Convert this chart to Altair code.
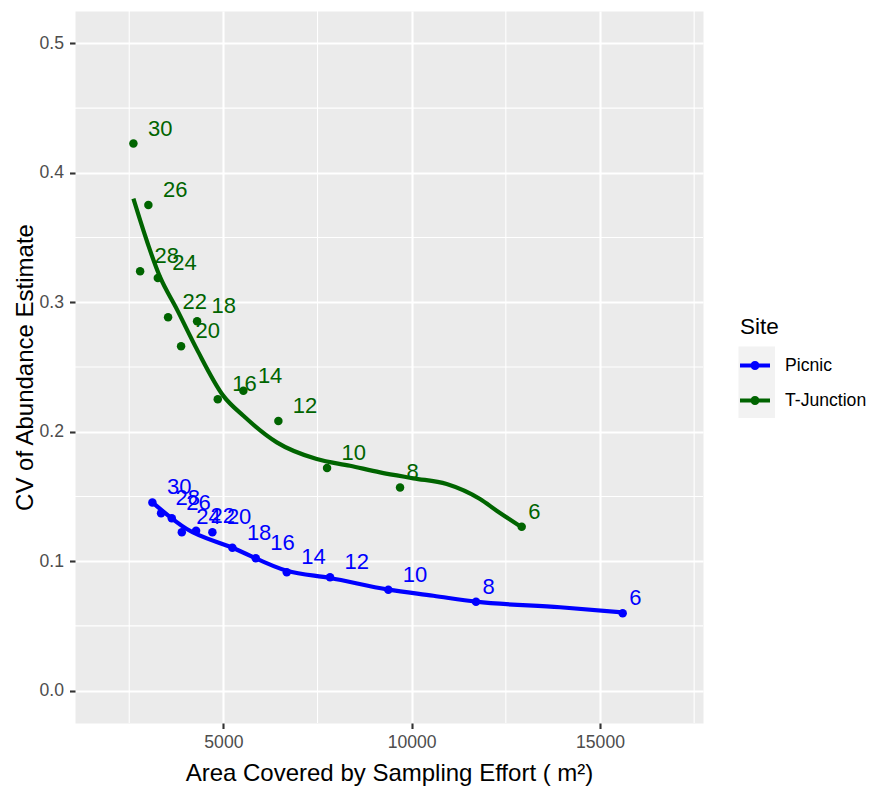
import altair as alt
import pandas as pd

# ---------------- data ----------------
sample_n = [30, 28, 26, 24, 22, 20, 18, 16, 14, 12, 10, 8, 6]
sites = ["Picnic", "T-Junction"]
site_colors = ["#0000FF", "#006400"]

picnic_area = [3115, 3346, 3630, 3896, 4275, 4708, 5239, 5860, 6683, 7832, 9380, 11708, 15602]
picnic_cv = [0.1454, 0.1370, 0.1331, 0.1223, 0.1235, 0.1223, 0.1104, 0.1022, 0.0914, 0.0875, 0.0780, 0.0687, 0.0598]

tjunction_area = [2611, 2789, 3009, 3259, 3532, 3877, 4302, 4851, 5531, 6460, 7753, 9691, 12921]
tjunction_cv = [0.4226, 0.3240, 0.3752, 0.3188, 0.2885, 0.2661, 0.2854, 0.2250, 0.2316, 0.2082, 0.1719, 0.1570, 0.1266]

# smoothed (loess) curves
picnic_fit_area = [3115, 4028, 5239, 6683, 7832, 9380, 10575, 11708, 13941, 15602]
picnic_fit_cv = [0.1454, 0.1248, 0.1104, 0.0926, 0.0870, 0.0780, 0.0733, 0.0687, 0.0644, 0.0605]

tjunction_fit_area = [2611, 3320, 3763, 4294, 5000, 5531, 6418, 7479, 8363, 9160, 10046, 10930, 11814, 12257, 12921]
tjunction_fit_cv = [0.3801, 0.3194, 0.2947, 0.2638, 0.2277, 0.2123, 0.1918, 0.1789, 0.1737, 0.1686, 0.1640, 0.1596, 0.1480, 0.1390, 0.1262]

x_major = [5000, 10000, 15000]
x_minor = [2500, 7500, 12500, 17500]
y_major = [0.0, 0.1, 0.2, 0.3, 0.4, 0.5]
y_minor = [0.05, 0.15, 0.25, 0.35, 0.45]

x_domain = [1060, 17735]
y_domain = [-0.025, 0.525]

# ---------------- tables ----------------
pts = pd.DataFrame({
    "site": [sites[0]] * len(sample_n) + [sites[1]] * len(sample_n),
    "area": picnic_area + tjunction_area,
    "cv": picnic_cv + tjunction_cv,
    "n": sample_n + sample_n,
})
fit = pd.DataFrame({
    "site": [sites[0]] * len(picnic_fit_area) + [sites[1]] * len(tjunction_fit_area),
    "area": picnic_fit_area + tjunction_fit_area,
    "cv": picnic_fit_cv + tjunction_fit_cv,
})

FONT = "Liberation Sans"
W, H = 628, 712

x_scale = alt.Scale(domain=x_domain, nice=False, zero=False)
y_scale = alt.Scale(domain=y_domain, nice=False, zero=False)
site_scale = alt.Scale(domain=sites, range=site_colors)

common_axis = dict(
    grid=True, gridColor="white", gridWidth=2.1,
    ticks=True, tickColor="#333333", tickWidth=2.1, tickSize=5.5,
    domain=False, labelFont=FONT, labelFontSize=17.6, labelColor="#4D4D4D",
    labelFlush=False, labelOverlap=False,
    titleFont=FONT, titleFontSize=24, titleFontWeight="normal", titleColor="black",
    titleBaseline="alphabetic", titleAlign="center",
)
x_axis = alt.Axis(values=x_major, format="d", labelPadding=5,
                  titleX=W / 2, titleY=57.7, **common_axis)
y_axis = alt.Axis(values=y_major, format=".1f", labelPadding=6,
                  titleAngle=-90, titleX=-43, titleY=H / 2, **common_axis)

X_TITLE = "Area Covered by Sampling Effort ( m\u00b2)"
Y_TITLE = "CV of Abundance Estimate"


def xe(field):
    return alt.X(field, type="quantitative", scale=x_scale, axis=x_axis, title=X_TITLE)


def ye(field):
    return alt.Y(field, type="quantitative", scale=y_scale, axis=y_axis, title=Y_TITLE)


minor_x = alt.Chart(pd.DataFrame({"v": x_minor})).mark_rule(
    color="white", strokeWidth=1.07).encode(x=xe("v"))
minor_y = alt.Chart(pd.DataFrame({"v": y_minor})).mark_rule(
    color="white", strokeWidth=1.07).encode(y=ye("v"))

lines = alt.Chart(fit).mark_line(strokeWidth=4.2, interpolate="monotone").encode(
    x=xe("area"), y=ye("cv"),
    stroke=alt.Stroke("site:N", scale=site_scale, title="Site"),
)

legend_path = ("M-1,-0.14L1,-0.14L1,0.14L-1,0.14Z "
               "M-0.3,0A0.3,0.3,0,1,1,0.3,0A0.3,0.3,0,1,1,-0.3,0Z")

points = alt.Chart(pts).mark_point(filled=True, size=72, opacity=1).encode(
    x=xe("area"), y=ye("cv"),
    color=alt.Color("site:N", scale=site_scale, title="Site", legend=alt.Legend(
        orient="none", legendX=665, legendY=305, title="Site",
        titleFont=FONT, titleFontSize=22.5, titleFontWeight="normal", titleColor="black",
        titlePadding=12, labelFont=FONT, labelFontSize=17.6, labelColor="black",
        labelOffset=15, symbolType=legend_path, symbolSize=900, symbolStrokeWidth=0,
        symbolOpacity=1, rowPadding=11, padding=0,
    )),
)

label_common = dict(align="left", baseline="alphabetic", dy=-8, fontSize=22, font=FONT)
labels2 = alt.Chart(pts).transform_filter("datum.n >= 10").mark_text(dx=14.5, **label_common).encode(
    x=xe("area"), y=ye("cv"), text="n:Q",
    fill=alt.Fill("site:N", scale=site_scale, title="Site"),
)
labels1 = alt.Chart(pts).transform_filter("datum.n < 10").mark_text(dx=6.5, **label_common).encode(
    x=xe("area"), y=ye("cv"), text="n:Q",
    fill=alt.Fill("site:N", scale=site_scale, title="Site"),
)

# grey legend-key background (ggplot legend.key)
key_bg = alt.Chart(pd.DataFrame({"k": [0]})).mark_rect(color="#F2F2F2").encode(
    x=alt.value(663.5), x2=alt.value(700), y=alt.value(335.5), y2=alt.value(407),
)

chart = alt.layer(minor_x, minor_y, key_bg, lines, points, labels2, labels1).properties(
    width=W, height=H,
    autosize=alt.AutoSizeParams(type="none"),
    padding={"left": 75, "top": 11, "right": 876 - 75 - W, "bottom": 786 - 11 - H},
    background="white",
).configure_view(fill="#EBEBEB", stroke="transparent").configure_legend(disable=True)

chart.save("out.html", embed_options={"renderer": "svg", "actions": False})
